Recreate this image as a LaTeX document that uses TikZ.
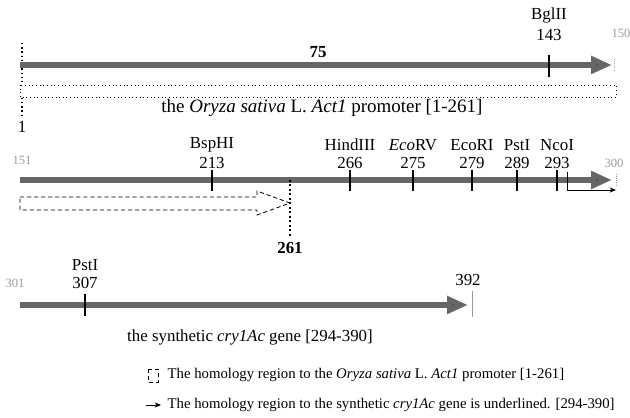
\documentclass[tikz,border=0pt]{standalone}
\usepackage{fontspec}
\setmainfont{Liberation Serif}
\usetikzlibrary{arrows.meta,positioning,shapes,calc}
\definecolor{seqgray}{HTML}{666666}
\definecolor{headgray}{HTML}{4A4A4A}
\definecolor{faint}{HTML}{9A9A9A}
\tikzset{
  seqarr/.style={-{Triangle[length=5.2mm,width=4.2mm,fill=headgray]},
                 line width=1.7mm,draw=seqgray},
  cuttick/.style={draw=black,line width=0.8pt},
  sitelbl/.style={font=\fontsize{12}{14}\selectfont,inner sep=1pt},
  poslbl/.style={font=\fontsize{12}{14}\selectfont,inner sep=1pt},
  endlbl/.style={font=\fontsize{9}{10}\selectfont,text=faint,inner sep=1pt},
  boldlbl/.style={font=\fontsize{12}{14}\selectfont\bfseries,inner sep=1pt},
  captext/.style={font=\fontsize{12}{14}\selectfont,inner sep=1pt},
  legtext/.style={font=\fontsize{10.5}{12}\selectfont,inner sep=1pt,anchor=west},
  homobox/.style={draw=black,dotted,line width=0.6pt,fill=white},
  homoarr/.style={draw=black,densely dashed,line width=0.6pt,fill=white},
  endmark/.style={draw=faint,line width=0.5pt}
}
\begin{document}
\begin{tikzpicture}[x=0.025cm,y=-0.025cm]
    \path[use as bounding box] (0,0) rectangle (630,418);
    % first row: 1-150
    \coordinate (r1s) at (20,65);
    \coordinate (r1e) at (612,65);
    \draw[line width=1pt,dotted] (22,43) -- (22,116);
    \node[captext] (one) at (22,127) {1};
    \draw[homobox] (20,85) rectangle (616,97);
    \draw[seqarr] (r1s) -- (r1e);
    \draw[endmark,densely dotted] (614,59) -- (614,71);
    \node[boldlbl] (mid75) at (318,52) {75};
    \node[sitelbl] (bgl) at (549,15) {BglII};
    \node[poslbl] (p143) at (549,35) {143};
    \draw[cuttick] (549,55) -- (549,77);
    \node[endlbl] (p150) at (621,33) {150};
    \node[captext,font=\fontsize{13.5}{15}\selectfont] (prom) at (322,108)
      {the \textit{Oryza sativa} L. \textit{Act1} promoter [1-261]};
    % second row: 151-300
    \coordinate (r2s) at (20,180);
    \coordinate (r2e) at (612,180);
    \node[endlbl] (p151) at (22,160) {151};
    \draw[seqarr] (r2s) -- (r2e);
    \draw[endmark,densely dotted] (616,174) -- (616,186);
    \node[sitelbl] (bsp) at (212,145) {BspHI};
    \node[poslbl] (p213) at (212,163) {213};
    \node[sitelbl] (hind) at (350,145) {HindIII};
    \node[poslbl] (p266) at (350,163) {266};
    \node[sitelbl] (ecov) at (413,145) {\textit{Eco}RV};
    \node[poslbl] (p275) at (413,163) {275};
    \node[sitelbl] (ecoi) at (472,145) {EcoRI};
    \node[poslbl] (p279) at (472,163) {279};
    \node[sitelbl] (pst) at (517,145) {PstI};
    \node[poslbl] (p289) at (517,163) {289};
    \node[sitelbl] (nco) at (557,145) {NcoI};
    \node[poslbl] (p293) at (557,163) {293};
    \node[endlbl] (p300) at (614,163) {300};
    \foreach \tx in {212,350,413,472,517,557}
      \draw[cuttick] (\tx,170) -- (\tx,191);
    \coordinate (tss) at (567,172);
    \coordinate (tssend) at (616,190);
    \draw[line width=0.6pt,-{Stealth[length=1.6mm,width=1.3mm]}]
      (tss) |- (tssend);
    % homology region to the promoter, ends at 261
    \draw[homoarr] (20,197) -- (257,197) -- (257,191) -- (290,203)
      -- (257,215) -- (257,210) -- (20,210) -- cycle;
    \draw[line width=1.2pt,dotted] (290,180) -- (290,236);
    \node[boldlbl] (p261) at (290,248) {261};
    % third row: 301-392
    \coordinate (r3s) at (20,305);
    \coordinate (r3e) at (468,305);
    \node[endlbl] (p301) at (15,283) {301};
    \node[sitelbl] (pst3) at (85,265) {PstI};
    \node[poslbl] (p307) at (85,283) {307};
    \draw[seqarr] (r3s) -- (r3e);
    \draw[cuttick] (85,294) -- (85,316);
    \node[poslbl] (p392) at (468,280) {392};
    \draw[endmark] (472,291) -- (472,317);
    \node[captext] (gene) at (250,337)
      {the synthetic \textit{cry1Ac} gene [294-390]};
    % legend
    \draw[homobox,densely dashed] (148,369) rectangle (158,382);
    \node[legtext] (leg1) at (166,375)
      {The homology region to the \textit{Oryza sativa} L. \textit{Act1} promoter [1-261]};
    \coordinate (legas) at (146,405);
    \coordinate (legae) at (161,405);
    \draw[line width=0.6pt,-{Stealth[length=1.6mm,width=1.3mm]}] (legas) -- (legae);
    \node[legtext] (leg2) at (166,405)
      {The homology region to the synthetic \textit{cry1Ac} gene is underlined. [294-390]};
  \end{tikzpicture}
\end{document}
